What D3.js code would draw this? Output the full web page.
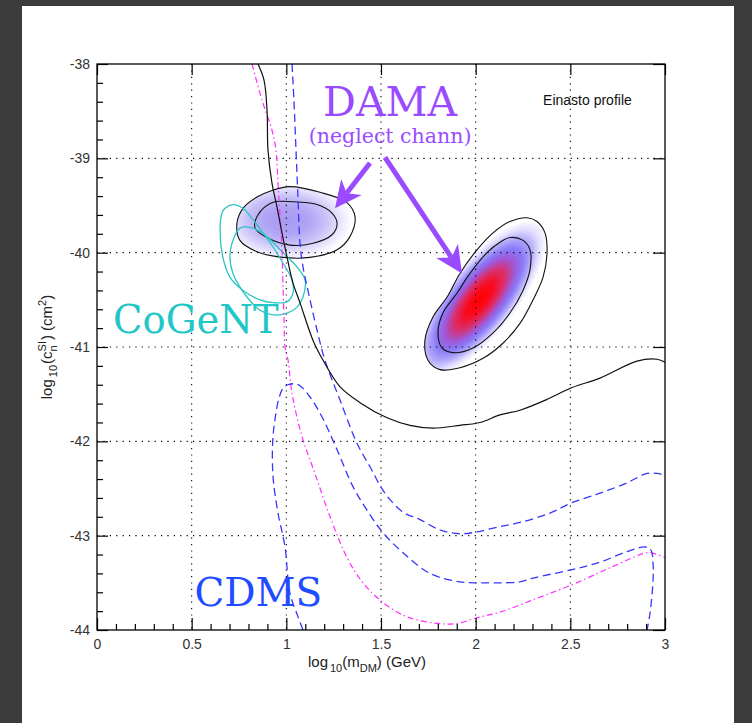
<!DOCTYPE html>
<html>
<head>
<meta charset="utf-8">
<script src="https://cdn.jsdelivr.net/npm/d3@7"></script>
<style>
  html, body { margin: 0; padding: 0; background: #3b3b3b; }
  svg { display: block; }
</style>
</head>
<body>
<svg id="chart" width="752" height="723"></svg>
<script>
// ---- axes ----
const xTicks = [0, 0.5, 1, 1.5, 2, 2.5, 3];
const xTickLabels = ["0", "0.5", "1", "1.5", "2", "2.5", "3"];
const yTicks = [-44, -43, -42, -41, -40, -39, -38];
const yTickLabels = ["-44", "-43", "-42", "-41", "-40", "-39", "-38"];

// ---- exclusion limits: [log10 mDM, log10 sigma] ----
const limitSolid = [
  [0.850, -38.00], [0.882, -38.17], [0.898, -38.49], [0.903, -38.91], [0.924, -39.26],
  [0.951, -39.52], [0.977, -39.79], [1.004, -40.05], [1.035, -40.32], [1.072, -40.53],
  [1.141, -40.93], [1.194, -41.14], [1.283, -41.42], [1.389, -41.59], [1.532, -41.75],
  [1.653, -41.83], [1.775, -41.86], [1.917, -41.83], [2.023, -41.80], [2.129, -41.72],
  [2.234, -41.67], [2.372, -41.56], [2.509, -41.43], [2.657, -41.33], [2.852, -41.15],
  [2.958, -41.13], [3.000, -41.16]
];

const limitDashDot = [
  [0.819, -38.00], [0.871, -38.38], [0.924, -38.70], [0.945, -38.91], [0.956, -39.26],
  [0.967, -39.62], [0.977, -39.97], [0.982, -40.32], [0.988, -40.71], [0.993, -41.00],
  [1.009, -41.14], [1.030, -41.49], [1.083, -41.95], [1.151, -42.34], [1.231, -42.80],
  [1.320, -43.23], [1.405, -43.50], [1.511, -43.71], [1.637, -43.86], [1.796, -43.93],
  [1.901, -43.93], [2.007, -43.87], [2.129, -43.81], [2.303, -43.68], [2.509, -43.52],
  [2.710, -43.34], [2.884, -43.19], [2.921, -43.18], [3.000, -43.23]
];

const limitDashedUpper = [
  [1.030, -38.00], [1.040, -38.38], [1.051, -38.91], [1.062, -39.44], [1.072, -39.90],
  [1.088, -40.15], [1.114, -40.40], [1.162, -40.82], [1.204, -41.14], [1.283, -41.56],
  [1.373, -42.02], [1.442, -42.27], [1.521, -42.55], [1.616, -42.75], [1.706, -42.83],
  [1.812, -42.94], [1.917, -42.98], [2.007, -42.96], [2.113, -42.91], [2.234, -42.86],
  [2.393, -42.76], [2.509, -42.65], [2.657, -42.55], [2.799, -42.44], [2.905, -42.34],
  [2.958, -42.34], [3.000, -42.36]
];

const limitDashedLoop = [
  [1.088, -44.00], [1.060, -43.85], [1.019, -43.61], [0.993, -43.12], [0.956, -42.76],
  [0.930, -42.38], [0.928, -42.00], [0.940, -41.77], [0.960, -41.55], [0.982, -41.44],
  [1.009, -41.40], [1.045, -41.39], [1.072, -41.41], [1.125, -41.53], [1.188, -41.74],
  [1.268, -42.09], [1.352, -42.48], [1.426, -42.73], [1.511, -42.97], [1.616, -43.18],
  [1.759, -43.40], [1.917, -43.49], [2.023, -43.50], [2.129, -43.50], [2.234, -43.49],
  [2.303, -43.45], [2.509, -43.36], [2.657, -43.28], [2.799, -43.17], [2.894, -43.12],
  [2.925, -43.15], [2.937, -43.30], [2.937, -43.47], [2.921, -43.82], [2.905, -44.00]
];

// ---- DAMA regions (closed contours) ----
const damaLowOuter = [
  [0.924, -39.34], [1.019, -39.30], [1.178, -39.36], [1.320, -39.47], [1.363, -39.62],
  [1.336, -39.83], [1.268, -39.97], [1.125, -40.05], [0.982, -40.05], [0.845, -39.99],
  [0.755, -39.87], [0.739, -39.69], [0.771, -39.53], [0.845, -39.41]
];
const damaLowInner = [
  [0.924, -39.47], [1.035, -39.46], [1.162, -39.49], [1.241, -39.58], [1.268, -39.69],
  [1.241, -39.81], [1.141, -39.90], [1.019, -39.92], [0.898, -39.84], [0.835, -39.74],
  [0.850, -39.60]
];
const damaHighOuter = [
  [2.271, -39.63], [2.324, -39.67], [2.366, -39.79], [2.377, -40.00], [2.356, -40.26],
  [2.303, -40.50], [2.234, -40.75], [2.144, -40.96], [2.039, -41.12], [1.917, -41.22],
  [1.812, -41.24], [1.748, -41.14], [1.732, -40.93], [1.775, -40.68], [1.849, -40.47],
  [1.917, -40.22], [2.007, -39.97], [2.092, -39.79], [2.181, -39.67]
];
const damaHighInner = [
  [2.181, -39.84], [2.250, -39.87], [2.287, -39.97], [2.287, -40.18], [2.250, -40.40],
  [2.181, -40.64], [2.092, -40.85], [1.986, -41.01], [1.880, -41.06], [1.822, -41.01],
  [1.801, -40.85], [1.827, -40.64], [1.901, -40.43], [1.970, -40.22], [2.060, -40.00],
  [2.129, -39.89]
];
const damaLowPeak = [1.00, -39.66];
const damaHighPeak = [2.02, -40.50];

// ---- CoGeNT regions ----
const cogentA = [
  [0.676, -39.53], [0.718, -39.49], [0.771, -39.53], [0.824, -39.65], [0.877, -39.79],
  [0.930, -39.94], [0.982, -40.11], [1.030, -40.29], [1.035, -40.43], [1.004, -40.52],
  [0.930, -40.53], [0.861, -40.50], [0.771, -40.40], [0.702, -40.26], [0.665, -40.05],
  [0.650, -39.76], [0.660, -39.58]
];
const cogentB = [
  [0.713, -39.90], [0.755, -39.74], [0.824, -39.74], [0.898, -39.83], [0.982, -40.00],
  [1.056, -40.15], [1.099, -40.29], [1.088, -40.47], [1.056, -40.58], [1.004, -40.64],
  [0.930, -40.66], [0.861, -40.61], [0.792, -40.47], [0.718, -40.22], [0.702, -40.05]
];

// ---- annotations ----
const damaArrows = [
  { from: [1.442, -39.05], to: [1.257, -39.53] },
  { from: [1.521, -38.99], to: [1.928, -40.22] }
];

// ================= drawing =================
const W = 752, H = 723;
const plot = { left: 97, right: 665, top: 64, bottom: 630 };

const svg = d3.select("#chart");
const x = d3.scaleLinear().domain([0, 3]).range([plot.left, plot.right]);
const y = d3.scaleLinear().domain([-44, -38]).range([plot.bottom, plot.top]);

// slide backdrop
svg.append("rect").attr("width", W).attr("height", H).attr("fill", "#3b3b3b");
svg.append("rect").attr("x", 22).attr("y", 6).attr("width", 712).attr("height", H - 6).attr("fill", "#ffffff");

const defs = svg.append("defs");
defs.append("clipPath").attr("id", "plotClip")
  .append("rect")
  .attr("x", plot.left).attr("y", plot.top)
  .attr("width", plot.right - plot.left).attr("height", plot.bottom - plot.top);

function gradient(id, stops, cx, cy, angle, rx, ry) {
  const g = defs.append("radialGradient").attr("id", id)
    .attr("gradientUnits", "userSpaceOnUse")
    .attr("cx", 0).attr("cy", 0).attr("r", 1)
    .attr("gradientTransform", `translate(${cx},${cy}) rotate(${angle}) scale(${rx},${ry})`);
  stops.forEach(([o, c]) => g.append("stop").attr("offset", o).attr("stop-color", c));
}

gradient("lowGrad", [
  [0, "#a797f3"], [0.35, "#b1a5f5"], [0.6, "#c9c1f8"], [0.8, "#e6e2fd"], [0.95, "#f9f8ff"], [1, "#ffffff"]
], x(damaLowPeak[0]), y(damaLowPeak[1]), 0, 66, 40);

gradient("highGrad", [
  [0, "#ff0000"], [0.2, "#fa0a1e"], [0.38, "#d8306e"], [0.52, "#a058d8"], [0.64, "#8a7af8"],
  [0.76, "#b0a7fa"], [0.88, "#e2defe"], [1, "#ffffff"]
], x(damaHighPeak[0]), y(damaHighPeak[1]), -51.3, 98, 36);

const closed = d3.line().x(d => x(d[0])).y(d => y(d[1])).curve(d3.curveCatmullRomClosed.alpha(0.5));
const open = d3.line().x(d => x(d[0])).y(d => y(d[1])).curve(d3.curveCatmullRom.alpha(0.5));

const g = svg.append("g").attr("clip-path", "url(#plotClip)");

// likelihood shading
g.append("path").attr("d", closed(damaLowOuter)).attr("fill", "url(#lowGrad)");
g.append("path").attr("d", closed(damaHighOuter)).attr("fill", "url(#highGrad)");

// dotted grid
const gridStyle = sel => sel.attr("stroke", "#000").attr("stroke-width", 1.1)
  .attr("stroke-dasharray", "1.2,5.2").attr("fill", "none");
g.selectAll(".vgrid").data(xTicks.slice(1, -1)).join("line")
  .attr("x1", d => x(d)).attr("x2", d => x(d))
  .attr("y1", plot.top).attr("y2", plot.bottom).call(gridStyle);
g.selectAll(".hgrid").data(yTicks.slice(1, -1)).join("line")
  .attr("y1", d => y(d)).attr("y2", d => y(d))
  .attr("x1", plot.left).attr("x2", plot.right).call(gridStyle);

// contours
[damaLowOuter, damaLowInner, damaHighOuter, damaHighInner].forEach(c =>
  g.append("path").attr("d", closed(c)).attr("fill", "none")
    .attr("stroke", "#111").attr("stroke-width", 1.1));
[cogentA, cogentB].forEach(c =>
  g.append("path").attr("d", closed(c)).attr("fill", "none")
    .attr("stroke", "#2cc4c4").attr("stroke-width", 1.3));

// limit curves
g.append("path").attr("d", open(limitDashDot)).attr("fill", "none")
  .attr("stroke", "#ff2cff").attr("stroke-width", 1.2).attr("stroke-dasharray", "6,3,1.5,3");
g.append("path").attr("d", open(limitDashedUpper)).attr("fill", "none")
  .attr("stroke", "#3636ff").attr("stroke-width", 1.3).attr("stroke-dasharray", "8,4.5");
g.append("path").attr("d", open(limitDashedLoop)).attr("fill", "none")
  .attr("stroke", "#3636ff").attr("stroke-width", 1.3).attr("stroke-dasharray", "8,4.5");
g.append("path").attr("d", open(limitSolid)).attr("fill", "none")
  .attr("stroke", "#111").attr("stroke-width", 1.2);

// frame
svg.append("rect")
  .attr("x", plot.left).attr("y", plot.top)
  .attr("width", plot.right - plot.left).attr("height", plot.bottom - plot.top)
  .attr("fill", "none").attr("stroke", "#000").attr("stroke-width", 1.3);

// axes (ticks pointing inward)
const tickFont = sel => sel.selectAll("text")
  .attr("font-family", "Liberation Sans, Arial, sans-serif")
  .attr("font-size", 14).attr("fill", "#333");
const clean = sel => { sel.select(".domain").remove(); sel.selectAll("line").attr("stroke", "#000").attr("stroke-width", 1.2); };

const xMinor = d3.range(1, 30).map(i => i / 10).filter(v => Math.abs(v * 2 - Math.round(v * 2)) > 1e-9);
const yMinor = d3.range(1, 30).map(i => -44 + i / 5).filter(v => Math.abs(v - Math.round(v)) > 1e-9);

svg.append("g").attr("transform", `translate(0,${plot.bottom})`)
  .call(d3.axisBottom(x).tickValues(xTicks).tickSizeInner(-12).tickSizeOuter(0).tickPadding(9)
    .tickFormat((d, i) => xTickLabels[i]))
  .call(clean).call(tickFont);
svg.append("g").attr("transform", `translate(0,${plot.bottom})`)
  .call(d3.axisBottom(x).tickValues(xMinor).tickSizeInner(-6).tickSizeOuter(0).tickFormat(""))
  .call(clean);
svg.append("g").attr("transform", `translate(0,${plot.top})`)
  .call(d3.axisTop(x).tickValues(xTicks).tickSizeInner(-11).tickSizeOuter(0).tickFormat(""))
  .call(clean);

svg.append("g").attr("transform", `translate(${plot.left},0)`)
  .call(d3.axisLeft(y).tickValues(yTicks).tickSizeInner(-11).tickSizeOuter(0).tickPadding(7)
    .tickFormat((d, i) => yTickLabels[i]))
  .call(clean).call(tickFont);
svg.append("g").attr("transform", `translate(${plot.left},0)`)
  .call(d3.axisLeft(y).tickValues(yMinor).tickSizeInner(-6).tickSizeOuter(0).tickFormat(""))
  .call(clean);
svg.append("g").attr("transform", `translate(${plot.right},0)`)
  .call(d3.axisRight(y).tickValues(yTicks).tickSizeInner(-12).tickSizeOuter(0).tickFormat(""))
  .call(clean);

// axis titles
const sans = "Liberation Sans, Arial, sans-serif";
const xt = svg.append("text").attr("x", 367).attr("y", 667)
  .attr("text-anchor", "middle").attr("font-family", sans).attr("font-size", 15).attr("fill", "#222");
xt.append("tspan").text("log");
xt.append("tspan").attr("font-size", 11).attr("dx", 2).attr("dy", 5).text("10");
xt.append("tspan").attr("dy", -5).text("(m");
xt.append("tspan").attr("font-size", 11).attr("dy", 5).text("DM");
xt.append("tspan").attr("dy", -5).text(") (GeV)");

const yt = svg.append("text").attr("transform", "translate(52,347) rotate(-90)")
  .attr("text-anchor", "middle").attr("font-family", sans).attr("font-size", 15).attr("fill", "#222");
yt.append("tspan").text("log");
yt.append("tspan").attr("font-size", 11).attr("dx", 2).attr("dy", 5).text("10");
yt.append("tspan").attr("dx", 1).attr("dy", -5).text("(c");
yt.append("tspan").attr("font-size", 11).attr("dy", 5).text("n");
yt.append("tspan").attr("font-size", 11).attr("dx", -6.1).attr("dy", -11).text("SI");
yt.append("tspan").attr("dx", 1).attr("dy", 6).text(") (cm");
yt.append("tspan").attr("font-size", 11).attr("dy", -6).text("2");
yt.append("tspan").attr("dy", 6).text(")");

// profile note
svg.append("text").attr("x", x(2.356)).attr("y", y(-38.43))
  .attr("font-family", sans).attr("font-size", 14).attr("fill", "#111")
  .text("Einasto profile");

// labels
const serif = "DejaVu Serif, serif";
const purple = "#9a4bff";
svg.append("text").attr("x", x(1.548)).attr("y", y(-38.55)).attr("text-anchor", "middle")
  .attr("font-family", serif).attr("font-size", 41).attr("fill", purple).text("DAMA");
svg.append("text").attr("x", x(1.548)).attr("y", y(-38.84)).attr("text-anchor", "middle")
  .attr("font-family", serif).attr("font-size", 20.5).attr("fill", purple).text("(neglect chann)");
svg.append("text").attr("x", x(0.085)).attr("y", y(-40.85))
  .attr("font-family", serif).attr("font-size", 38.5).attr("fill", "#22c6c6").text("CoGeNT");
svg.append("text").attr("x", x(0.515)).attr("y", y(-43.75))
  .attr("font-family", serif).attr("font-size", 39).attr("fill", "#1f4cff").text("CDMS");

// arrows pointing to the DAMA regions
damaArrows.forEach(a => {
  const x1 = x(a.from[0]), y1 = y(a.from[1]), x2 = x(a.to[0]), y2 = y(a.to[1]);
  const L = Math.hypot(x2 - x1, y2 - y1), ux = (x2 - x1) / L, uy = (y2 - y1) / L;
  const px = -uy, py = ux;
  const headLen = 27, half = 13, notch = 19;
  svg.append("line").attr("x1", x1).attr("y1", y1)
    .attr("x2", x2 - ux * notch).attr("y2", y2 - uy * notch)
    .attr("stroke", purple).attr("stroke-width", 5);
  const pts = [
    [x2, y2],
    [x2 - ux * headLen + px * half, y2 - uy * headLen + py * half],
    [x2 - ux * notch, y2 - uy * notch],
    [x2 - ux * headLen - px * half, y2 - uy * headLen - py * half]
  ];
  svg.append("path").attr("d", "M" + pts.map(p => p.join(",")).join("L") + "Z").attr("fill", purple);
});
</script>
</body>
</html>
